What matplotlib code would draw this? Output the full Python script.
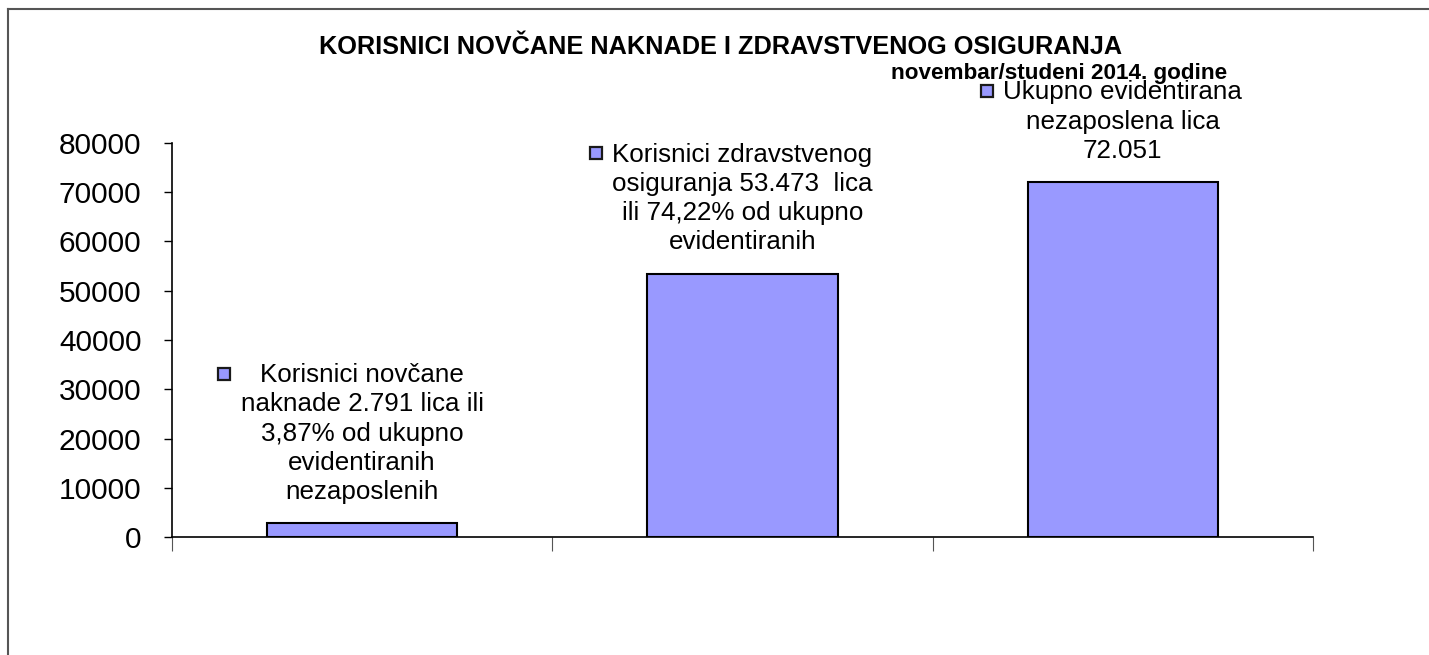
import matplotlib
matplotlib.use("Agg")
import matplotlib.pyplot as plt
from matplotlib.lines import Line2D
from matplotlib.patches import Rectangle
from matplotlib.offsetbox import AnnotationBbox, HPacker, TextArea, DrawingArea

plt.rcParams['font.family'] = ['Liberation Sans', 'DejaVu Sans']

# ---- data ----
categories = ["Korisnici novčane naknade", "Korisnici zdravstvenog osiguranja",
              "Ukupno evidentirana nezaposlena lica"]
values = [2791, 53473, 72051]
labels = ["Korisnici novčane\nnaknade 2.791 lica ili\n3,87% od ukupno\nevidentiranih\nnezaposlenih",
          "Korisnici zdravstvenog\nosiguranja 53.473  lica\nili 74,22% od ukupno\nevidentiranih",
          "Ukupno evidentirana\nnezaposlena lica\n72.051"]
yticks = [0, 10000, 20000, 30000, 40000, 50000, 60000, 70000, 80000]
title1 = "KORISNICI NOVČANE NAKNADE I ZDRAVSTVENOG OSIGURANJA"
title2 = "novembar/studeni 2014. godine"

bar_color = "#9999FF"

fig = plt.figure(figsize=(14.29, 6.55), dpi=100)
ax = fig.add_axes([172/1429, 1 - 537/655, (1313-172)/1429, (537-143)/655])

x = list(range(len(values)))
ax.bar(x, values, width=0.5, color=bar_color, edgecolor="black", linewidth=1.5, zorder=3)

ax.set_xlim(-0.5, len(values) - 0.5)
ax.set_ylim(0, 80000)
ax.set_yticks(yticks)
ax.set_yticklabels([str(t) for t in yticks], fontsize=21.5)
ax.set_xticks([i - 0.5 for i in range(len(values) + 1)])
ax.set_xticklabels([])
ax.tick_params(axis='y', direction='out', length=6, width=1, pad=16, colors='black')
ax.tick_params(axis='x', direction='out', length=10, width=0.8, color='#555555')
for s in ['top', 'right']:
    ax.spines[s].set_visible(False)
ax.spines['left'].set_linewidth(1.2)
ax.spines['bottom'].set_linewidth(1.2)

# data labels with legend key
for xi, v, lab in zip(x, values, labels):
    ta = TextArea(lab, textprops=dict(fontsize=18.7, multialignment='center',
                                       linespacing=1.27, color='black'))
    key = DrawingArea(9.5, 12, 0, 0)
    key.add_artist(Rectangle((0.3, 0), 8.8, 8.8, facecolor=bar_color,
                             edgecolor='#1a1a1a', linewidth=1.6))
    spacer = DrawingArea(9.5, 12, 0, 0)
    pack = HPacker(children=[key, ta, spacer], align='top', pad=0, sep=7)
    ab = AnnotationBbox(pack, (xi, v), xybox=(0, 14), xycoords='data',
                        boxcoords='offset points', box_alignment=(0.5, 0),
                        frameon=False, zorder=4, annotation_clip=False)
    ax.add_artist(ab)

fig.text(0.504, 1 - 47/655, title1, ha='center', va='center',
         fontsize=18.2, fontweight='bold')
fig.text(1227/1429, 1 - 74/655, title2, ha='right', va='center',
         fontsize=16.2, fontweight='bold', zorder=5)

# chart area border (partially visible)
fig.add_artist(Line2D([8/1429, 8/1429], [0, 1 - 9/655], transform=fig.transFigure,
                      color='#555555', linewidth=1.5))
fig.add_artist(Line2D([8/1429, 1], [1 - 9/655, 1 - 9/655], transform=fig.transFigure,
                      color='#555555', linewidth=1.5))

fig.savefig("out.png", dpi=100)
